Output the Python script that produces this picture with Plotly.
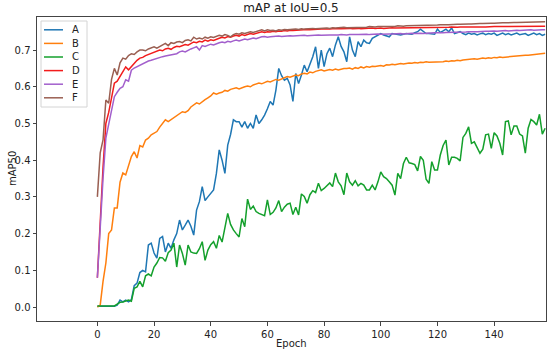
import plotly.graph_objects as go

epochs = list(range(0, 159))

series_names = ["A", "B", "C", "D", "E", "F"]

A = [0.002, 0.002, 0.002, 0.002, 0.002, 0.002, 0.002, 0.005, 0.019, 0.014,
     0.019, 0.014, 0.02, 0.058, 0.065, 0.094, 0.10, 0.096, 0.169, 0.174,
     0.147, 0.133, 0.187, 0.192, 0.15, 0.174, 0.16, 0.183, 0.20, 0.237,
     0.21, 0.223, 0.237, 0.22, 0.196, 0.264, 0.287, 0.328, 0.29, 0.30,
     0.31, 0.319, 0.364, 0.428, 0.40, 0.364, 0.441, 0.47, 0.51, 0.505,
     0.505, 0.49, 0.505, 0.487, 0.50, 0.487, 0.523, 0.50, 0.51, 0.523,
     0.54, 0.56, 0.55, 0.591, 0.65, 0.63, 0.618, 0.623, 0.605, 0.56,
     0.636, 0.609, 0.632, 0.659, 0.641, 0.66, 0.682, 0.709, 0.65, 0.70,
     0.655, 0.69, 0.705, 0.682, 0.714, 0.736, 0.71, 0.695, 0.668, 0.736,
     0.70, 0.682, 0.723, 0.709, 0.727, 0.72, 0.718, 0.732, 0.736, 0.74,
     0.745, 0.741, 0.738, 0.736, 0.745, 0.743, 0.741, 0.741, 0.743, 0.745,
     0.744, 0.743, 0.747, 0.75, 0.757, 0.75, 0.745, 0.745, 0.744, 0.743,
     0.757, 0.748, 0.752, 0.757, 0.75, 0.76, 0.745, 0.748, 0.75, 0.745,
     0.742, 0.746, 0.743, 0.745, 0.741, 0.744, 0.746, 0.742, 0.745, 0.743,
     0.746, 0.74, 0.744, 0.746, 0.742, 0.745, 0.741, 0.743, 0.746, 0.742,
     0.744, 0.745, 0.74, 0.744, 0.746, 0.742, 0.745, 0.74, 0.743]

B = [0.0, 0.005, 0.07, 0.12, 0.20, 0.21, 0.27, 0.27, 0.34, 0.365,
     0.36, 0.385, 0.41, 0.423, 0.406, 0.44, 0.436, 0.455, 0.46, 0.469,
     0.474, 0.478, 0.49, 0.50, 0.51, 0.505, 0.51, 0.515, 0.52, 0.527,
     0.532, 0.53, 0.535, 0.545, 0.55, 0.556, 0.553, 0.56, 0.565, 0.57,
     0.575, 0.583, 0.58, 0.583, 0.585, 0.59, 0.588, 0.593, 0.595, 0.597,
     0.594, 0.598, 0.60, 0.602, 0.60, 0.605, 0.607, 0.61, 0.608, 0.612,
     0.615, 0.613, 0.617, 0.62, 0.618, 0.622, 0.625, 0.628, 0.626, 0.63,
     0.632, 0.63, 0.635, 0.637, 0.635, 0.64, 0.638, 0.642, 0.645, 0.646,
     0.643, 0.645, 0.647, 0.645, 0.648, 0.646, 0.649, 0.65, 0.65, 0.651,
     0.648, 0.652, 0.65, 0.654, 0.651, 0.655, 0.653, 0.656, 0.655, 0.657,
     0.658, 0.656, 0.66, 0.659, 0.661, 0.66, 0.662, 0.663, 0.662, 0.664,
     0.665, 0.664, 0.666, 0.665, 0.667, 0.666, 0.668, 0.667, 0.667, 0.668,
     0.668, 0.669, 0.668, 0.67, 0.669, 0.671, 0.67, 0.672, 0.671, 0.673,
     0.674, 0.673, 0.675, 0.676, 0.675, 0.677, 0.678, 0.677, 0.679, 0.678,
     0.68, 0.679, 0.681, 0.68, 0.681, 0.682, 0.681, 0.683, 0.684, 0.684,
     0.685, 0.686, 0.686, 0.687, 0.688, 0.688, 0.689, 0.69, 0.691]

C = [0.003, 0.003, 0.003, 0.003, 0.003, 0.003, 0.003, 0.008, 0.013, 0.014,
     0.017, 0.019, 0.016, 0.051, 0.055, 0.07, 0.055, 0.085, 0.09, 0.085,
     0.109, 0.12, 0.135, 0.134, 0.125, 0.148, 0.155, 0.174, 0.109, 0.169,
     0.146, 0.114, 0.169, 0.15, 0.147, 0.146, 0.159, 0.178, 0.127, 0.155,
     0.17, 0.178, 0.16, 0.195, 0.177, 0.22, 0.255, 0.225, 0.21, 0.20,
     0.191, 0.241, 0.219, 0.294, 0.266, 0.275, 0.26, 0.255, 0.252, 0.249,
     0.292, 0.252, 0.258, 0.27, 0.29, 0.26, 0.272, 0.28, 0.283, 0.252,
     0.272, 0.251, 0.308, 0.301, 0.283, 0.306, 0.317, 0.312, 0.337, 0.317,
     0.323, 0.33, 0.338, 0.328, 0.365, 0.341, 0.33, 0.306, 0.365, 0.341,
     0.332, 0.344, 0.33, 0.337, 0.332, 0.319, 0.319, 0.332, 0.319, 0.341,
     0.368, 0.355, 0.35, 0.341, 0.332, 0.305, 0.364, 0.35, 0.391, 0.408,
     0.393, 0.391, 0.388, 0.371, 0.41, 0.40, 0.348, 0.337, 0.396, 0.373,
     0.373, 0.414, 0.44, 0.455, 0.387, 0.408, 0.408, 0.405, 0.398, 0.462,
     0.473, 0.491, 0.446, 0.45, 0.432, 0.419, 0.43, 0.469, 0.471, 0.432,
     0.475, 0.466, 0.446, 0.414, 0.505, 0.507, 0.469, 0.493, 0.493, 0.471,
     0.466, 0.419, 0.487, 0.511, 0.505, 0.496, 0.525, 0.471, 0.487]

D = [0.08, 0.24, 0.38, 0.50, 0.53, 0.57, 0.61, 0.615, 0.627, 0.64,
     0.654, 0.646, 0.655, 0.665, 0.672, 0.678, 0.68, 0.685, 0.688, 0.69,
     0.695, 0.697, 0.70, 0.698, 0.703, 0.705, 0.702, 0.707, 0.71, 0.709,
     0.712, 0.715, 0.713, 0.718, 0.722, 0.72, 0.724, 0.722, 0.727, 0.724,
     0.728, 0.726, 0.73, 0.732, 0.735, 0.733, 0.737, 0.735, 0.738, 0.74,
     0.738, 0.742, 0.74, 0.743, 0.745, 0.743, 0.746, 0.748, 0.75, 0.748,
     0.75, 0.749, 0.751, 0.75, 0.752, 0.751, 0.753, 0.752, 0.754, 0.753,
     0.754, 0.755, 0.754, 0.755, 0.756, 0.755, 0.756, 0.757, 0.756, 0.757,
     0.757, 0.756, 0.757, 0.758, 0.757, 0.758, 0.758, 0.759, 0.758, 0.759,
     0.758, 0.759, 0.759, 0.758, 0.759, 0.76, 0.759, 0.76, 0.759, 0.76,
     0.76, 0.759, 0.76, 0.76, 0.761, 0.76, 0.76, 0.761, 0.76, 0.761,
     0.761, 0.76, 0.761, 0.761, 0.762, 0.761, 0.761, 0.762, 0.761, 0.762,
     0.762, 0.761, 0.762, 0.762, 0.762, 0.763, 0.762, 0.762, 0.763, 0.762,
     0.763, 0.763, 0.762, 0.763, 0.763, 0.764, 0.763, 0.763, 0.764, 0.763,
     0.764, 0.764, 0.763, 0.764, 0.764, 0.764, 0.765, 0.764, 0.764, 0.765,
     0.764, 0.765, 0.765, 0.764, 0.765, 0.765, 0.765, 0.765, 0.765]

E = [0.08, 0.22, 0.35, 0.46, 0.50, 0.54, 0.573, 0.585, 0.596, 0.60,
     0.619, 0.615, 0.645, 0.651, 0.655, 0.66, 0.664, 0.666, 0.67, 0.672,
     0.675, 0.678, 0.68, 0.682, 0.684, 0.685, 0.686, 0.688, 0.69, 0.695,
     0.697, 0.695, 0.70, 0.703, 0.706, 0.709, 0.70, 0.712, 0.71, 0.714,
     0.716, 0.714, 0.718, 0.72, 0.722, 0.72, 0.724, 0.722, 0.725, 0.727,
     0.725, 0.728, 0.73, 0.728, 0.731, 0.733, 0.731, 0.734, 0.736, 0.737,
     0.735, 0.736, 0.737, 0.736, 0.738, 0.737, 0.738, 0.737, 0.739, 0.738,
     0.739, 0.738, 0.739, 0.74, 0.739, 0.74, 0.739, 0.74, 0.741, 0.74,
     0.741, 0.74, 0.741, 0.741, 0.74, 0.741, 0.742, 0.741, 0.741, 0.742,
     0.741, 0.742, 0.742, 0.743, 0.742, 0.743, 0.742, 0.743, 0.743, 0.744,
     0.743, 0.744, 0.743, 0.744, 0.744, 0.745, 0.744, 0.745, 0.744, 0.745,
     0.745, 0.746, 0.745, 0.746, 0.746, 0.745, 0.746, 0.747, 0.746, 0.747,
     0.747, 0.746, 0.747, 0.748, 0.748, 0.747, 0.748, 0.749, 0.748, 0.749,
     0.749, 0.75, 0.749, 0.75, 0.75, 0.751, 0.75, 0.751, 0.751, 0.752,
     0.752, 0.751, 0.752, 0.752, 0.753, 0.752, 0.753, 0.753, 0.754, 0.753,
     0.754, 0.754, 0.754, 0.755, 0.754, 0.755, 0.755, 0.755, 0.755]

F = [0.30, 0.42, 0.455, 0.564, 0.555, 0.62, 0.65, 0.632, 0.665, 0.678,
     0.675, 0.685, 0.69, 0.688, 0.695, 0.70, 0.70, 0.698, 0.703, 0.706,
     0.709, 0.705, 0.71, 0.715, 0.718, 0.712, 0.72, 0.718, 0.722, 0.723,
     0.72, 0.726, 0.728, 0.725, 0.735, 0.73, 0.733, 0.73, 0.735, 0.732,
     0.736, 0.734, 0.738, 0.74, 0.738, 0.742, 0.74, 0.736, 0.742, 0.745,
     0.743, 0.747, 0.745, 0.748, 0.75, 0.748, 0.75, 0.752, 0.755, 0.752,
     0.755, 0.753, 0.754, 0.752, 0.755, 0.754, 0.756, 0.755, 0.756, 0.755,
     0.757, 0.756, 0.758, 0.757, 0.758, 0.757, 0.759, 0.758, 0.759, 0.76,
     0.759, 0.76, 0.759, 0.761, 0.76, 0.761, 0.76, 0.762, 0.761, 0.761,
     0.762, 0.761, 0.763, 0.762, 0.763, 0.762, 0.764, 0.763, 0.763, 0.764,
     0.764, 0.763, 0.765, 0.764, 0.765, 0.764, 0.766, 0.765, 0.765, 0.766,
     0.766, 0.767, 0.766, 0.767, 0.767, 0.768, 0.767, 0.768, 0.768, 0.767,
     0.768, 0.769, 0.768, 0.769, 0.769, 0.77, 0.769, 0.77, 0.77, 0.771,
     0.77, 0.771, 0.771, 0.772, 0.771, 0.772, 0.772, 0.773, 0.772, 0.773,
     0.773, 0.774, 0.773, 0.774, 0.774, 0.775, 0.774, 0.775, 0.775, 0.775,
     0.776, 0.775, 0.776, 0.776, 0.776, 0.777, 0.776, 0.777, 0.777]

x_ticks = [0, 20, 40, 60, 80, 100, 120, 140]
y_ticks = [0.0, 0.1, 0.2, 0.3, 0.4, 0.5, 0.6, 0.7]

colors = ["#1f77b4", "#ff7f0e", "#14a02c", "#f21c1c", "#a25fcc", "#9a5f52"]
data = [A, B, C, D, E, F]

W, H = 550, 353
ML, MR, MT, MB = 37, 4, 17, 32
PW, PH = W - ML - MR, H - MT - MB


def px_x(p):
    return (p - ML) / PW


def px_y(p):
    return (H - MB - p) / PH


fig = go.Figure()
for name, vals, col in zip(series_names, data, colors):
    fig.add_trace(go.Scatter(x=epochs, y=vals, mode="lines", name=name,
                             line=dict(color=col, width=1.5), showlegend=False))

font_family = "DejaVu Sans"
txt = "#222"

# custom matplotlib-style legend (layout decoration)
shapes = [dict(type="rect", xref="paper", yref="paper",
               x0=px_x(41), x1=px_x(87), y0=px_y(107), y1=px_y(21),
               line=dict(color="#d4d4d4", width=1), fillcolor="rgba(255,255,255,0.85)",
               layer="above")]
annotations = []
for i, (name, col) in enumerate(zip(series_names, colors)):
    yc = 29.8 + 13.6 * i
    shapes.append(dict(type="line", xref="paper", yref="paper",
                       x0=px_x(44), x1=px_x(63), y0=px_y(yc), y1=px_y(yc),
                       line=dict(color=col, width=1.5), layer="above"))
    annotations.append(dict(text=name, xref="paper", yref="paper",
                            x=px_x(70), y=px_y(yc), xanchor="left", yanchor="middle",
                            showarrow=False,
                            font=dict(family=font_family, size=10, color=txt)))

annotations += [
    dict(text="Epoch", xref="paper", yref="paper", x=0.5, y=0, yanchor="middle",
         yshift=-22, showarrow=False,
         font=dict(family=font_family, size=10, color=txt)),
    dict(text="mAP50", xref="paper", yref="paper", x=0, y=0.5, xanchor="center",
         yanchor="middle", xshift=-25, textangle=-90, showarrow=False,
         font=dict(family=font_family, size=10, color=txt)),
]

axis_common = dict(showline=True, linecolor="#444", linewidth=1, mirror=True,
                   ticks="outside", ticklen=3.5, tickcolor="#444",
                   showgrid=False, zeroline=False, automargin=False,
                   tickfont=dict(family=font_family, size=10, color=txt))

fig.update_layout(
    width=W, height=H,
    margin=dict(l=ML, r=MR, t=MT, b=MB),
    paper_bgcolor="white", plot_bgcolor="white",
    title=dict(text="mAP at IoU=0.5", x=0.529, xanchor="center", y=1 - 7.5 / H,
               yanchor="middle", font=dict(family=font_family, size=12, color=txt)),
    font=dict(family=font_family, color=txt),
    showlegend=False,
    xaxis=dict(range=[-21.3, 158.3], tickvals=x_ticks, **axis_common),
    yaxis=dict(range=[-0.038, 0.79], tickvals=y_ticks, tickformat=".1f", **axis_common),
    shapes=shapes,
    annotations=annotations,
)

fig.write_html("out.html", config={"displayModeBar": False},
               post_script="document.body.style.margin='0';")
